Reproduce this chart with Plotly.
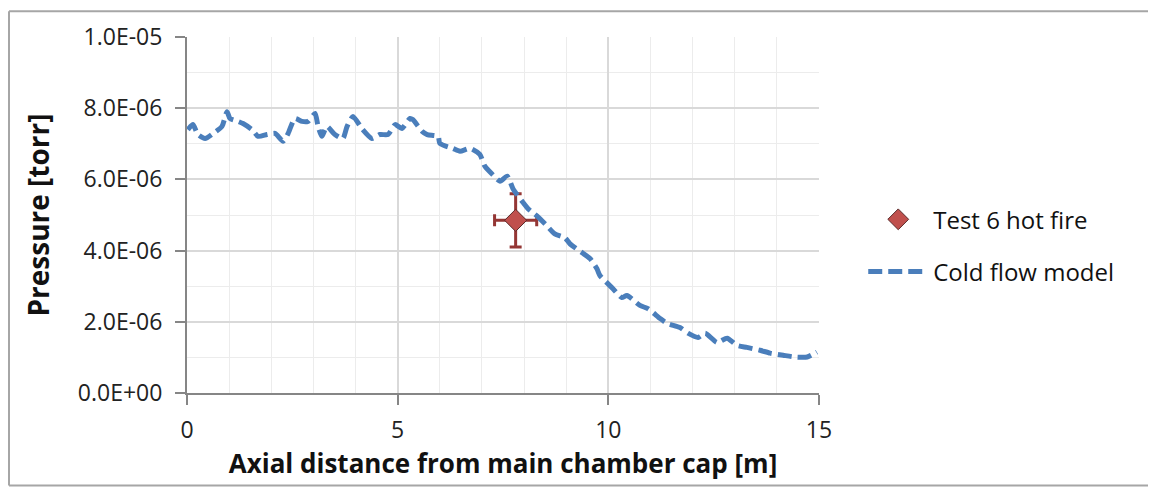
import plotly.graph_objects as go

# Cold flow model curve (axial distance m, pressure torr)
model_x = [0.02, 0.14, 0.26, 0.43, 0.62, 0.83, 0.95, 1.02, 1.21, 1.33, 1.54, 1.69, 1.9, 2.09, 2.28,
           2.4, 2.56, 2.73, 2.87, 3.04, 3.11, 3.2, 3.32, 3.51, 3.7, 3.8, 3.94, 4.15, 4.39, 4.58,
           4.77, 4.94, 5.1, 5.29, 5.36, 5.58, 5.7, 5.96, 6.0, 6.31, 6.48, 6.72, 6.95, 7.07, 7.24,
           7.43, 7.6, 7.74, 7.95, 8.1, 8.31, 8.5, 8.73, 8.97, 9.09, 9.38, 9.57, 9.73, 9.8, 10.11,
           10.32, 10.44, 10.75, 10.94, 11.23, 11.39, 11.7, 11.89, 12.13, 12.3, 12.58, 12.82, 13.05,
           13.29, 13.6, 13.84, 14.15, 14.43, 14.72, 14.95]
model_y = [7.40, 7.54, 7.26, 7.15, 7.29, 7.49, 7.90, 7.71, 7.63, 7.57, 7.40, 7.21, 7.26, 7.29, 7.07,
           7.29, 7.71, 7.63, 7.63, 7.85, 7.49, 7.21, 7.49, 7.26, 7.15, 7.49, 7.77, 7.43, 7.15, 7.26,
           7.26, 7.54, 7.43, 7.71, 7.68, 7.35, 7.26, 7.21, 7.01, 6.87, 6.79, 6.87, 6.70, 6.37, 6.15,
           5.95, 6.09, 5.73, 5.39, 5.17, 4.97, 4.75, 4.47, 4.36, 4.19, 3.94, 3.77, 3.49, 3.30, 2.93,
           2.68, 2.74, 2.46, 2.37, 2.09, 1.96, 1.84, 1.68, 1.56, 1.68, 1.42, 1.54, 1.34,
           1.28, 1.20, 1.12, 1.06, 1.01, 1.01, 1.15]
model_y = [v * 1e-6 for v in model_y]

# Test 6 hot fire measurement
test_x = [7.8]
test_y = [4.85e-6]
test_x_err = [0.5]
test_y_err = [0.75e-6]

y_tickvals = [0, 2e-6, 4e-6, 6e-6, 8e-6, 1e-5]
y_ticktext = ["0.0E+00", "2.0E-06", "4.0E-06", "6.0E-06", "8.0E-06", "1.0E-05"]
x_tickvals = [0, 5, 10, 15]

font_family = "Open Sans, Noto Sans, sans-serif"

L, R, T, B = 179, 337, 27, 94
W, H = 1148, 479
PW, PH = W - L - R, H - T - B

border = dict(xref="paper", yref="paper", type="line",
              line=dict(color="#a6a6a6", width=2), layer="below")
bx0 = (-L + 1) / PW
bx1 = (W + 50) / PW
by0 = -(B - 1) / PH
by1 = (PH + T - 1) / PH

fig = go.Figure()
fig.add_trace(go.Scatter(
    x=test_x, y=test_y, mode="markers", name="Test 6 hot fire", legendgroup="a",
    marker=dict(symbol="diamond", size=17, color="#C0504D", line=dict(color="#5a2a2a", width=1)),
    error_x=dict(type="data", array=test_x_err, color="#943634", thickness=3, width=6),
    error_y=dict(type="data", array=test_y_err, color="#943634", thickness=3, width=6),
))
fig.add_trace(go.Scatter(
    x=model_x, y=model_y, mode="lines", name="Cold flow model", legendgroup="b",
    line=dict(color="#4A7EBB", width=5, dash="14px,6px", shape="spline", smoothing=0.6),
))

fig.update_layout(
    width=W, height=H,
    margin=dict(l=L, r=R, t=T, b=B),
    paper_bgcolor="white", plot_bgcolor="white",
    font=dict(family=font_family, size=22, color="#222222"),
    showlegend=True,
    legend=dict(x=1.07, y=0.55, xanchor="left", yanchor="top",
                font=dict(size=24, color="#111111"), tracegroupgap=18,
                bgcolor="rgba(0,0,0,0)", itemwidth=60),
    shapes=[
        dict(border, x0=bx0, x1=bx1, y0=by1, y1=by1),
        dict(border, x0=bx0, x1=bx1, y0=by0, y1=by0),
        dict(border, x0=bx0, x1=bx0, y0=by0, y1=by1),
    ],
)
fig.update_xaxes(
    range=[0, 15], tickvals=x_tickvals, showline=True, linecolor="#868686", linewidth=2,
    ticks="outside", ticklen=10, tickwidth=2, tickcolor="#868686", ticklabelstandoff=5,
    showgrid=True, gridcolor="#d9d9d9", gridwidth=2,
    minor=dict(dtick=1, showgrid=True, gridcolor="#ececec", gridwidth=1),
    zeroline=False, tickfont=dict(size=23, color="#222222"),
    title=dict(text="<b>Axial distance from main chamber cap [m]</b>", font=dict(size=26, color="#111111"), standoff=8),
)
fig.update_yaxes(
    range=[0, 1e-5], tickvals=y_tickvals, ticktext=y_ticktext, showline=True, linecolor="#868686", linewidth=2,
    ticks="outside", ticklen=10, tickwidth=2, tickcolor="#868686", ticklabelstandoff=8,
    showgrid=True, gridcolor="#d9d9d9", gridwidth=2,
    minor=dict(dtick=1e-6, showgrid=True, gridcolor="#ececec", gridwidth=1),
    zeroline=False, tickfont=dict(size=23, color="#222222"),
    title=dict(text="<b>Pressure [torr]</b>", font=dict(size=28, color="#111111"), standoff=20),
)

fig.write_html("out.html")
